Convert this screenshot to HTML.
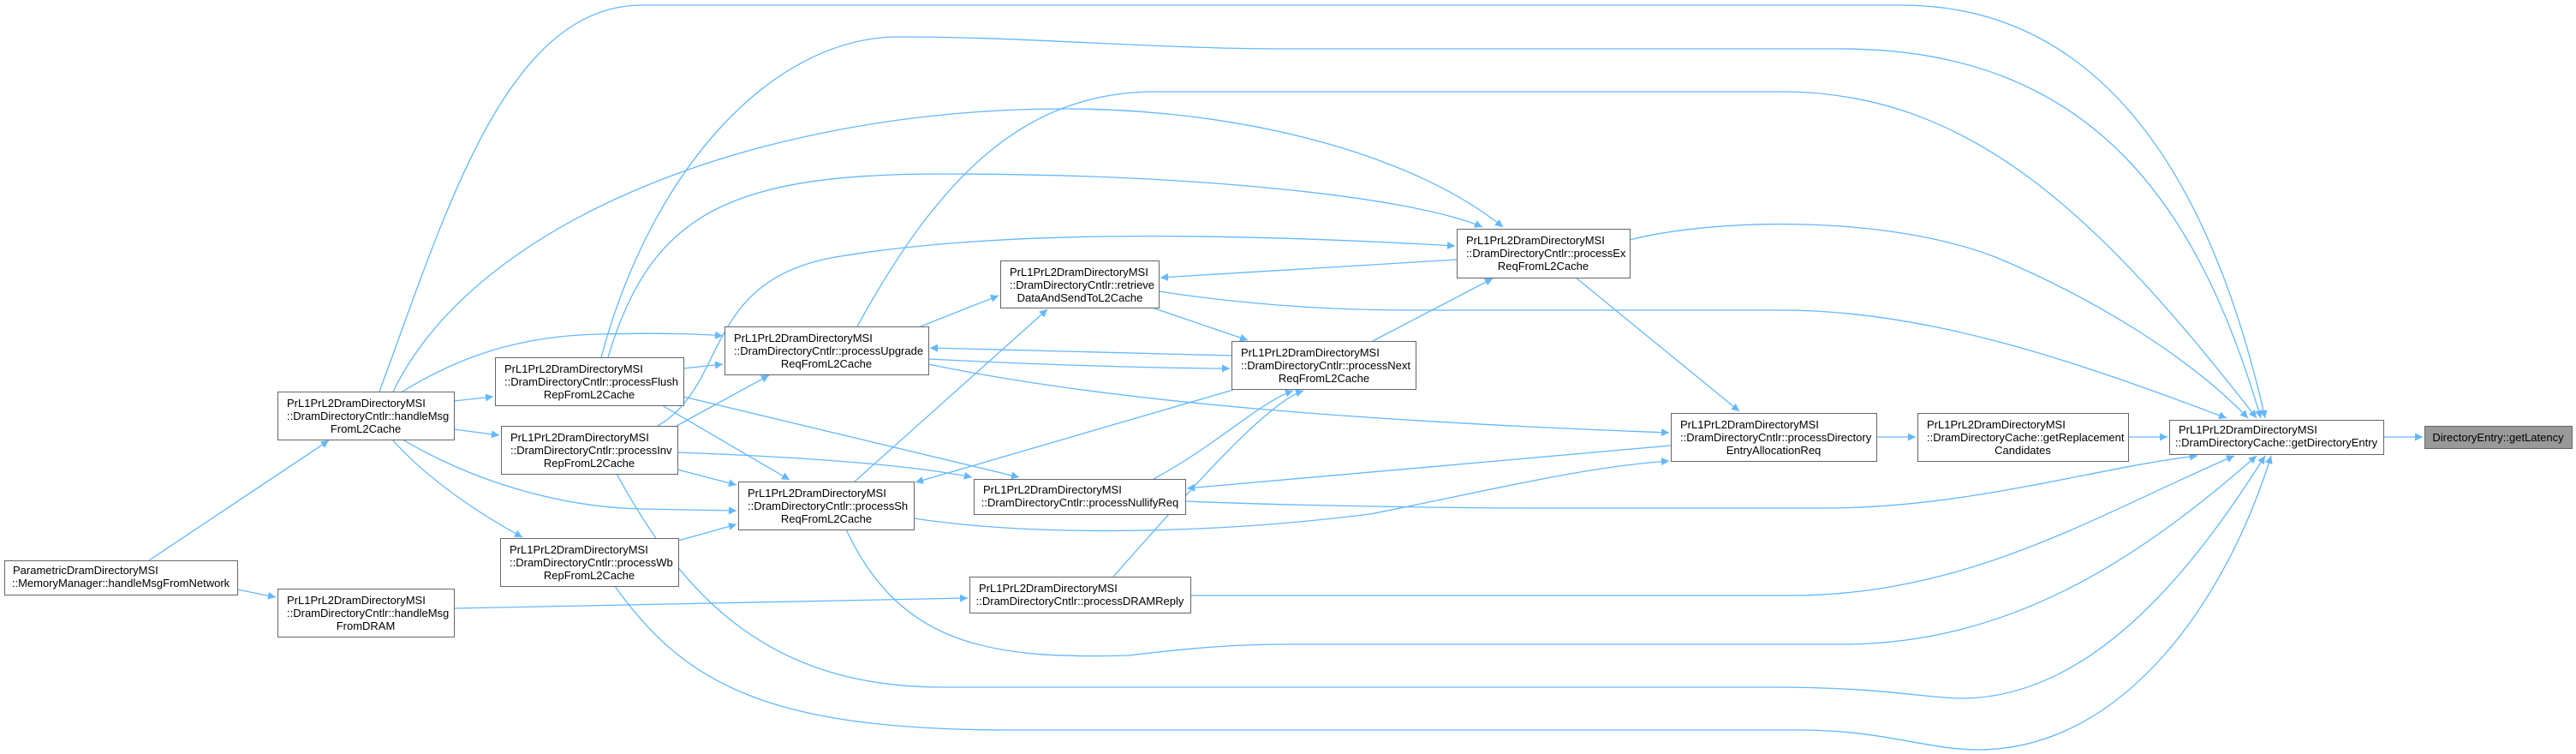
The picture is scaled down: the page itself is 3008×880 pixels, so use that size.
<!DOCTYPE html>
<html><head><meta charset="utf-8"><style>
html,body{margin:0;padding:0;background:#fff;}
svg{display:block;}
text{font-family:"Liberation Sans",sans-serif;font-size:13px;fill:#000;}
</style></head><body>
<svg width="3008" height="880" viewBox="0 0 3008 880" xmlns="http://www.w3.org/2000/svg">
<defs>
<marker id="a" viewBox="0 0 10 10" refX="10" refY="5" markerWidth="12" markerHeight="9" markerUnits="userSpaceOnUse" orient="auto">
<path d="M0,0 L10,5 L0,10 z" fill="#63b8ff"/>
</marker>
</defs>
<g fill="none" stroke="#63b8ff" stroke-width="1.3" marker-end="url(#a)">
<path d="M2783,510 L2829,510"/>
<path d="M2485,510 L2531,510"/>
<path d="M2191,510 L2237,510"/>
<path d="M1903,280 C2000,255 2200,250 2330,300 C2450,350 2560,420 2625,488"/>
<path d="M1353,340 C1450,355 1550,362 1650,362 L2080,362 C2250,362 2420,420 2600,488"/>
<path d="M443,457 C520,250 590,6 750,6 L2220,6 C2450,6 2580,200 2645,488"/>
<path d="M702,417 C760,200 900,43 1050,43 C1200,43 1350,57 1500,57 L2150,57 C2450,57 2570,250 2640,488"/>
<path d="M1001,381 C1100,200 1200,107 1350,107 L2080,107 C2300,107 2450,250 2635,488"/>
<path d="M459,457 C560,250 900,127 1243,127 C1450,127 1650,180 1755,265"/>
<path d="M710,417 C760,250 850,203 1100,203 C1400,203 1650,230 1731,265"/>
<path d="M768,497 C850,450 820,330 970,301 C1150,270 1400,270 1699,287"/>
<path d="M470,457 C530,420 600,392 700,390 C770,388 820,390 844,392"/>
<path d="M798,430 L844,425"/>
<path d="M790,497 L898,438"/>
<path d="M798,463 L1190,557"/>
<path d="M773,473 L922,560"/>
<path d="M791,528 C900,532 1050,540 1135,557"/>
<path d="M791,548 L860,566"/>
<path d="M470,513 C550,560 650,592 750,594 L860,596"/>
<path d="M792,631 L860,612"/>
<path d="M458,513 C500,560 560,600 610,627"/>
<path d="M530,468 L576,463"/>
<path d="M530,501 L583,508"/>
<path d="M174,654 L384,514"/>
<path d="M277,688 L322,697"/>
<path d="M530,710 L1130,698"/>
<path d="M1075,381 L1166,345"/>
<path d="M1701,303 L1355,324"/>
<path d="M1345,359 L1457,397"/>
<path d="M1438,415 L1086,406"/>
<path d="M1084,419 C1200,425 1350,430 1436,430"/>
<path d="M1084,425 C1300,470 1600,492 1949,505"/>
<path d="M1603,398 L1743,325"/>
<path d="M1840,324 L2031,480"/>
<path d="M1440,455 L1069,563"/>
<path d="M998,562 L1223,361"/>
<path d="M1347,559 C1420,520 1470,470 1510,456"/>
<path d="M1300,673 C1400,560 1480,470 1522,456"/>
<path d="M1951,520 L1386,570"/>
<path d="M1384,585 C1500,590 1700,593 1800,593 L2130,593 C2300,593 2450,545 2566,532"/>
<path d="M1067,605 C1200,625 1400,625 1600,600 C1750,570 1850,545 1949,538"/>
<path d="M1390,695 L2090,695 C2300,695 2450,600 2609,532"/>
<path d="M988,618 C1050,750 1150,770 1318,765 C1400,755 1450,752 1500,752 L2150,752 C2350,752 2500,650 2635,532"/>
<path d="M720,553 C800,700 900,802 1100,802 L2070,802 C2200,802 2250,815 2290,815 C2450,815 2570,650 2645,532"/>
<path d="M718,684 C800,800 900,852 1180,852 L2100,852 C2200,852 2250,875 2310,875 C2480,875 2600,700 2652,532"/>
</g>
<g stroke="#666" stroke-width="1" fill="#fff">
<rect x="5.5" y="654.5" width="272" height="40"/>
<rect x="324.5" y="457.5" width="206" height="56"/>
<rect x="324.5" y="687.5" width="206" height="56"/>
<rect x="578.5" y="417.5" width="220" height="56"/>
<rect x="585.5" y="497.5" width="206" height="56"/>
<rect x="584.5" y="628.5" width="208" height="56"/>
<rect x="846.5" y="381.5" width="238" height="56"/>
<rect x="862.5" y="562.5" width="205" height="56"/>
<rect x="1168.5" y="304.5" width="185" height="55"/>
<rect x="1438.5" y="398.5" width="215" height="56"/>
<rect x="1137.5" y="559.5" width="247" height="41"/>
<rect x="1132.5" y="673.5" width="258" height="42"/>
<rect x="1701.5" y="267.5" width="202" height="57"/>
<rect x="1951.5" y="482.5" width="240" height="56"/>
<rect x="2239.5" y="482.5" width="246" height="56"/>
<rect x="2533.5" y="490.5" width="250" height="40"/>
<rect x="2831.5" y="497.5" width="172" height="26" fill="#999"/>
</g>
<g>
<text x="15" y="670">ParametricDramDirectoryMSI</text>
<text x="141" y="685" text-anchor="middle">::MemoryManager::handleMsgFromNetwork</text>

<text x="335" y="475">PrL1PrL2DramDirectoryMSI</text>
<text x="335" y="490">::DramDirectoryCntlr::handleMsg</text>
<text x="427" y="505" text-anchor="middle">FromL2Cache</text>

<text x="335" y="705">PrL1PrL2DramDirectoryMSI</text>
<text x="335" y="720">::DramDirectoryCntlr::handleMsg</text>
<text x="427" y="735" text-anchor="middle">FromDRAM</text>

<text x="589" y="435">PrL1PrL2DramDirectoryMSI</text>
<text x="589" y="450">::DramDirectoryCntlr::processFlush</text>
<text x="688" y="465" text-anchor="middle">RepFromL2Cache</text>

<text x="596" y="515">PrL1PrL2DramDirectoryMSI</text>
<text x="596" y="530">::DramDirectoryCntlr::processInv</text>
<text x="688" y="545" text-anchor="middle">RepFromL2Cache</text>

<text x="595" y="646">PrL1PrL2DramDirectoryMSI</text>
<text x="595" y="661">::DramDirectoryCntlr::processWb</text>
<text x="688" y="676" text-anchor="middle">RepFromL2Cache</text>

<text x="857" y="399">PrL1PrL2DramDirectoryMSI</text>
<text x="857" y="414">::DramDirectoryCntlr::processUpgrade</text>
<text x="965" y="429" text-anchor="middle">ReqFromL2Cache</text>

<text x="873" y="580">PrL1PrL2DramDirectoryMSI</text>
<text x="873" y="595">::DramDirectoryCntlr::processSh</text>
<text x="965" y="610" text-anchor="middle">ReqFromL2Cache</text>

<text x="1179" y="322">PrL1PrL2DramDirectoryMSI</text>
<text x="1179" y="337">::DramDirectoryCntlr::retrieve</text>
<text x="1261" y="352" text-anchor="middle">DataAndSendToL2Cache</text>

<text x="1449" y="416">PrL1PrL2DramDirectoryMSI</text>
<text x="1449" y="431">::DramDirectoryCntlr::processNext</text>
<text x="1546" y="446" text-anchor="middle">ReqFromL2Cache</text>

<text x="1148" y="576">PrL1PrL2DramDirectoryMSI</text>
<text x="1261" y="591" text-anchor="middle">::DramDirectoryCntlr::processNullifyReq</text>

<text x="1143" y="691">PrL1PrL2DramDirectoryMSI</text>
<text x="1261" y="706" text-anchor="middle">::DramDirectoryCntlr::processDRAMReply</text>

<text x="1712" y="285">PrL1PrL2DramDirectoryMSI</text>
<text x="1712" y="300">::DramDirectoryCntlr::processEx</text>
<text x="1802" y="315" text-anchor="middle">ReqFromL2Cache</text>

<text x="1962" y="500">PrL1PrL2DramDirectoryMSI</text>
<text x="1962" y="515">::DramDirectoryCntlr::processDirectory</text>
<text x="2071" y="530" text-anchor="middle">EntryAllocationReq</text>

<text x="2250" y="500">PrL1PrL2DramDirectoryMSI</text>
<text x="2250" y="515">::DramDirectoryCache::getReplacement</text>
<text x="2362" y="530" text-anchor="middle">Candidates</text>

<text x="2544" y="506">PrL1PrL2DramDirectoryMSI</text>
<text x="2658" y="521" text-anchor="middle">::DramDirectoryCache::getDirectoryEntry</text>

<text x="2917" y="515" text-anchor="middle">DirectoryEntry::getLatency</text>
</g>
</svg>
</body></html>
